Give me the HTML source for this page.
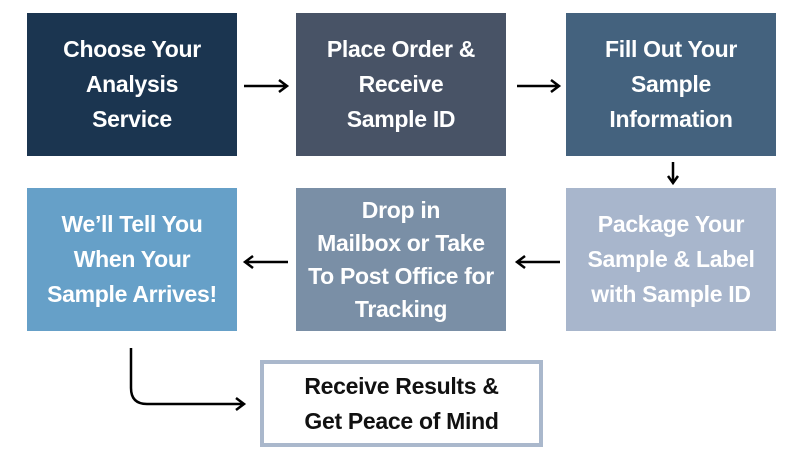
<!DOCTYPE html>
<html><head><style>
body{margin:0;width:800px;height:459px;background:#fff;position:relative;overflow:hidden;font-family:"Liberation Sans",sans-serif;}
.b{position:absolute;width:210px;height:143px;display:flex;align-items:center;justify-content:center;text-align:center;color:#fff;font-weight:bold;font-size:23px;line-height:35px;letter-spacing:-0.3px;}
svg{position:absolute;left:0;top:0}
</style></head><body>
<div class="b" style="left:27px;top:13px;background:#1b3550">Choose Your<br>Analysis<br>Service</div>
<div class="b" style="left:296px;top:13px;background:#485366">Place Order &amp;<br>Receive<br>Sample ID</div>
<div class="b" style="left:566px;top:13px;background:#44627e">Fill Out Your<br>Sample<br>Information</div>
<div class="b" style="left:27px;top:188px;background:#66a0c8">We’ll Tell You<br>When Your<br>Sample Arrives!</div>
<div class="b" style="left:296px;top:188px;background:#7a8fa6;line-height:33px">Drop in<br>Mailbox or Take<br>To Post Office for<br>Tracking</div>
<div class="b" style="left:566px;top:188px;background:#a8b6cc">Package Your<br>Sample &amp; Label<br>with Sample ID</div>
<div class="b" style="left:260px;top:360px;width:275px;height:79px;border:4px solid #aab8cc;background:#fff;color:#111;">Receive Results &amp;<br>Get Peace of Mind</div>
<svg width="800" height="459" fill="none" stroke="#000" stroke-width="2.5">
<path d="M244 86H286M279 80L287 86L279 92"/>
<path d="M517 86H558M551 80L559 86L551 92"/>
<path d="M673 162V182M668 176L673 183L678 176"/>
<path d="M288 262H246M253 256L245 262L253 268"/>
<path d="M560 262H518M525 256L517 262L525 268"/>
<path d="M131 348V388Q131 404 147 404H243M236 398L244 404L236 410"/>
</svg>
</body></html>
